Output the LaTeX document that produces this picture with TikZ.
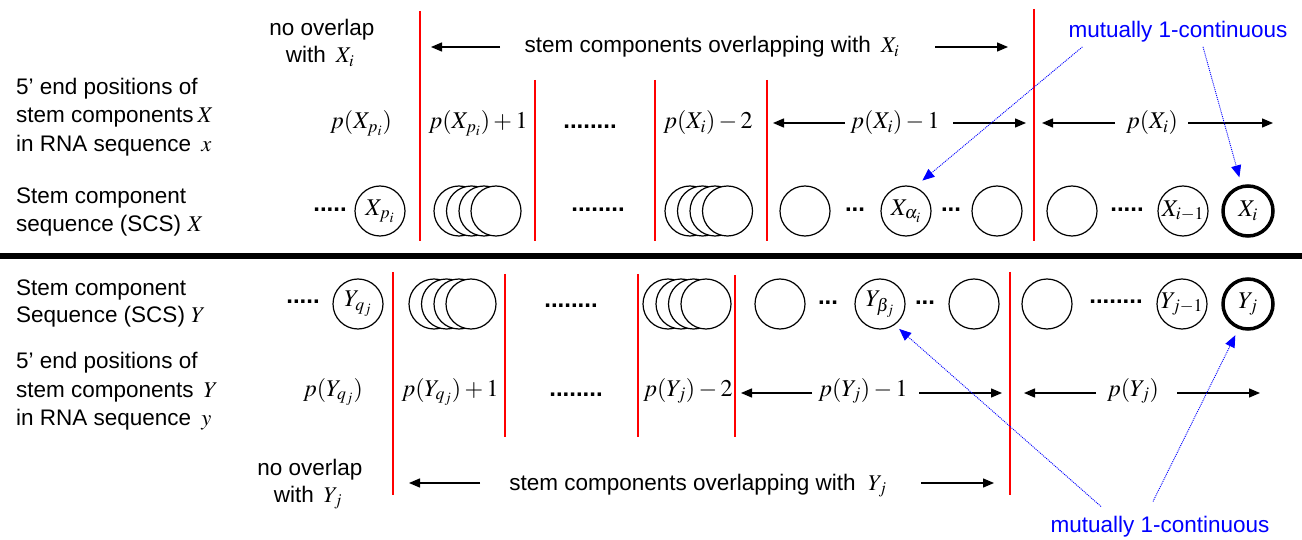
\documentclass[tikz,border=0pt]{standalone}
\usepackage{mathptmx}
\usepackage[no-math]{fontspec}
\setmainfont{Liberation Sans}
\usetikzlibrary{arrows.meta}

\begin{document}
\begin{tikzpicture}[x=1pt,y=-1pt,
  lbl/.style={anchor=base west, inner sep=0pt, font=\fontsize{22.5}{27}\selectfont},
  ctr/.style={anchor=base, inner sep=0pt, font=\fontsize{22.5}{27}\selectfont},
  mth/.style={anchor=base, inner sep=0pt, font=\fontsize{24}{28}\selectfont},
  dots/.style={anchor=base, inner sep=0pt, font=\fontsize{24}{28}\selectfont\bfseries},
  sc/.style={circle, draw, fill=white, line width=1.2pt, minimum size=50pt, inner sep=0pt, font=\fontsize{24}{28}\selectfont},
  lastsc/.style={sc, line width=3.5pt},
  bound/.style={draw=red, line width=2.8pt},
  arr/.style={line width=1.4pt, -{Triangle[length=11pt,width=9pt]}},
  note/.style={anchor=base, inner sep=0pt, text=blue, font=\fontsize{22.5}{27}\selectfont},
  link/.style={draw=blue, line width=0.9pt, dash pattern=on 1pt off 1pt, -{Triangle[length=12pt,width=10pt]}},
]
\fill[white] (0,0) rectangle (1302,540);
\path[use as bounding box] (0,0) rectangle (1302,540);

% ---------------- upper sequence X ----------------
\node[lbl] (lx1) at (16,95)  {5’ end positions of};
\node[lbl] (lx2) at (16,123) {stem components\,$X$};
\node[lbl] (lx3) at (16,152) {in RNA sequence \,$x$};
\node[lbl] (lx4) at (16,204) {Stem component};
\node[lbl] (lx5) at (16,232) {sequence (SCS) $X$};

\node[ctr] (nox1) at (322,36) {no overlap};
\node[ctr] (nox2) at (320,63) {with \,$X_i$};
\node[ctr] (ovx) at (712,53) {stem components overlapping with \,$X_i$};
\coordinate (ovxLt) at (500,47); \coordinate (ovxLh) at (431,47);
\coordinate (ovxRt) at (935,47); \coordinate (ovxRh) at (1008,47);
\draw[arr] (ovxLt) -- (ovxLh);
\draw[arr] (ovxRt) -- (ovxRh);

% boundaries
\draw[bound] (420,11) -- (420,241);
\draw[bound] (535,80) -- (535,241);
\draw[bound] (655,80) -- (655,241);
\draw[bound] (767,80) -- (767,241);
\draw[bound] (1034,9) -- (1034,241);

% positions
\node[mth] (px1) at (361,129) {$p(X_{p_i})$};
\node[mth] (px2) at (478,129) {$p(X_{p_i})+1$};
\node[dots] (px3) at (590,129) {........};
\node[mth] (px4) at (708,129) {$p(X_i)-2$};
\node[mth] (px5) at (895,129) {$p(X_i)-1$};
\node[mth] (px6) at (1152,129) {$p(X_i)$};
\coordinate (a1t) at (845,123); \coordinate (a1h) at (773,123);
\coordinate (a2t) at (953,123); \coordinate (a2h) at (1026,123);
\coordinate (a3t) at (1115,123); \coordinate (a3h) at (1042,123);
\coordinate (a4t) at (1188,123); \coordinate (a4h) at (1273,123);
\draw[arr] (a1t) -- (a1h);
\draw[arr] (a2t) -- (a2h);
\draw[arr] (a3t) -- (a3h);
\draw[arr] (a4t) -- (a4h);

% stem components
\node[dots] (dx1) at (330,212) {.....};
\node[sc] (xp) at (380,211) {$X_{p_i}$};
\node[sc] (s1a) at (459,211) {};
\node[sc] (s1b) at (471.5,211) {};
\node[sc] (s1c) at (484,211) {};
\node[sc] (s1d) at (496,211) {};
\node[dots] (dx2) at (598,212) {........};
\node[sc] (s2a) at (690,211) {};
\node[sc] (s2b) at (702.5,211) {};
\node[sc] (s2c) at (715,211) {};
\node[sc] (s2d) at (727.5,211) {};
\node[sc] (c1) at (805,211) {};
\node[dots] (dx3) at (855,212) {...};
\node[sc] (xa) at (906,211) {$X_{\alpha_i}$};
\node[dots] (dx4) at (951,212) {...};
\node[sc] (c2) at (997,211) {};
\node[sc] (c3) at (1072,211) {};
\node[dots] (dx5) at (1127,212) {.....};
\node[sc] (xim) at (1183,211) {$X_{i-1}$};
\node[lastsc] (xi) at (1248,211) {$X_i$};

\node[note] (mtop) at (1178,38) {mutually 1-continuous};
\draw[link, shorten >=10pt] ([xshift=14pt,yshift=-4pt]mtop.south west) -- (xa.70);
\draw[link, shorten >=8pt] ([xshift=25pt,yshift=-4pt]mtop.south) -- (xi.104);

% separator
\draw[line width=5.5pt] (0,256) -- (1302,256);

% ---------------- lower sequence Y ----------------
\node[lbl] (ly1) at (16,295) {Stem component};
\node[lbl] (ly2) at (16,323) {Sequence (SCS) $Y$};
\node[lbl] (ly3) at (16,368) {5’ end positions of};
\node[lbl] (ly4) at (16,397) {stem components \,$Y$};
\node[lbl] (ly5) at (16,425) {in RNA sequence \,$y$};

\node[ctr] (noy1) at (310,475) {no overlap};
\node[ctr] (noy2) at (308,502) {with \,$Y_j$};
\node[ctr] (ovy) at (698,490) {stem components overlapping with \;$Y_j$};
\coordinate (ovyLt) at (480,483); \coordinate (ovyLh) at (409,483);
\coordinate (ovyRt) at (921,483); \coordinate (ovyRh) at (994,483);
\draw[arr] (ovyLt) -- (ovyLh);
\draw[arr] (ovyRt) -- (ovyRh);

% boundaries
\draw[bound] (393,272) -- (393,495);
\draw[bound] (505,274) -- (505,437);
\draw[bound] (638,274) -- (638,437);
\draw[bound] (735,275) -- (735,437);
\draw[bound] (1010,272) -- (1010,495);

% stem components
\node[dots] (dy1) at (303,303) {.....};
\node[sc] (yq) at (358,304) {$Y_{q_j}$};
\node[sc] (t1a) at (434,304) {};
\node[sc] (t1b) at (446.5,304) {};
\node[sc] (t1c) at (459,304) {};
\node[sc] (t1d) at (471,304) {};
\node[dots] (dy2) at (571,308) {........};
\node[sc] (t2a) at (668,304) {};
\node[sc] (t2b) at (681,304) {};
\node[sc] (t2c) at (693.5,304) {};
\node[sc] (t2d) at (706,304) {};
\node[sc] (e1) at (780,304) {};
\node[dots] (dy3) at (828,305) {...};
\node[sc] (yb) at (880,304) {$Y_{\beta_j}$};
\node[dots] (dy4) at (925,305) {...};
\node[sc] (e2) at (974,304) {};
\node[sc] (e3) at (1047,304) {};
\node[dots] (dy5) at (1116,304) {........};
\node[sc] (yjm) at (1182,304) {$Y_{j-1}$};
\node[lastsc] (yj) at (1248,304) {$Y_j$};

% positions
\node[mth] (py1) at (333,396) {$p(Y_{q_j})$};
\node[mth] (py2) at (450,396) {$p(Y_{q_j})+1$};
\node[dots] (py3) at (576,396) {........};
\node[mth] (py4) at (688,396) {$p(Y_j)-2$};
\node[mth] (py5) at (863,396) {$p(Y_j)-1$};
\node[mth] (py6) at (1133,396) {$p(Y_j)$};
\coordinate (b1t) at (812,393); \coordinate (b1h) at (741,393);
\coordinate (b2t) at (919,393); \coordinate (b2h) at (1002,393);
\coordinate (b3t) at (1096,393); \coordinate (b3h) at (1024,393);
\coordinate (b4t) at (1177,393); \coordinate (b4h) at (1260,393);
\draw[arr] (b1t) -- (b1h);
\draw[arr] (b2t) -- (b2h);
\draw[arr] (b3t) -- (b3h);
\draw[arr] (b4t) -- (b4h);

\node[note] (mbot) at (1160,532) {mutually 1-continuous};
\draw[link, shorten >=6pt] ([xshift=-59pt,yshift=9pt]mbot.north) -- (yb.-55);
\draw[link, shorten >=7pt] ([xshift=-7pt,yshift=14pt]mbot.north) -- (yj.-111);
\end{tikzpicture}
\end{document}
